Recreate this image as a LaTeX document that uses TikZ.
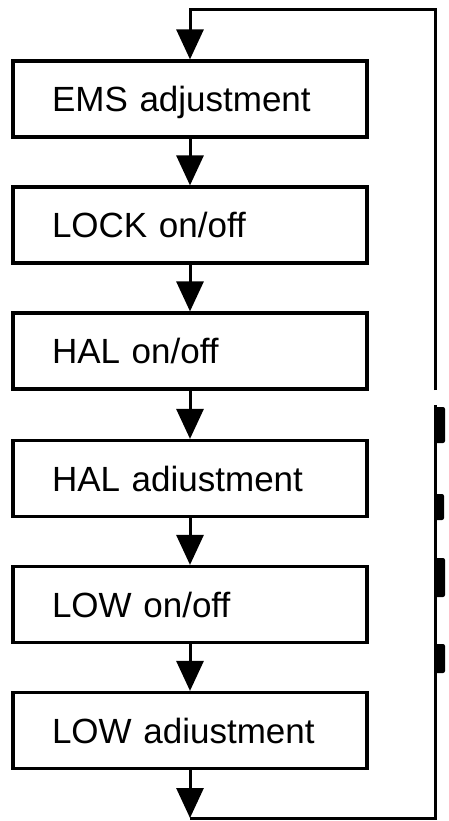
\documentclass[tikz,border=0pt]{standalone}
\usepackage{fontspec}
\setmainfont{Liberation Sans}
\usetikzlibrary{arrows.meta}
\begin{document}
\begin{tikzpicture}[x=1pt,y=-1pt,
  box/.style={draw, line width=3.2pt, minimum width=354pt, minimum height=76pt,
    inner xsep=39pt, inner ysep=0pt, text width=276pt, align=left,
    font=\fontsize{35}{41}\selectfont, text height=25pt, text depth=0pt},
  flow/.style={line width=3pt, -{Triangle[width=27pt,length=30pt]}},
  loopline/.style={line width=3pt},
  blob/.style={fill=black, rounded corners=2pt}]
\useasboundingbox (0,0) rectangle (448,821);
\node[box] (b1) at (190,99) {EMS adjustment};
\node[box] (b2) at (190,225) {LOCK on/off};
\node[box] (b3) at (190,351) {HAL on/off};
\node[box] (b4) at (190,478.5) {HAL adiustment};
\node[box] (b5) at (190,604.5) {LOW on/off};
\node[box] (b6) at (190,730.5) {LOW adiustment};
\draw[flow] (b1.south) -- (b2.north);
\draw[flow] (b2.south) -- (b3.north);
\draw[flow] (b3.south) -- (b4.north);
\draw[flow] (b4.south) -- (b5.north);
\draw[flow] (b5.south) -- (b6.north);
\coordinate (tl) at (190,10);
\coordinate (tr) at (435,10);
\coordinate (gapT) at (435,390);
\coordinate (gapB) at (435,405);
\coordinate (br) at (435,818);
\coordinate (bl) at (190,818);
\draw[flow] (b6.south) -- (bl);
\draw[loopline] (bl) -- (br) -- (gapB);
\draw[flow] (gapT) -- (tr) -- (tl) -- (b1.north);
\fill[blob] (435,407) rectangle (445,443);
\fill[blob] (435,494) rectangle (444,520);
\fill[blob] (435,558) rectangle (445,597);
\fill[blob] (435,644) rectangle (445,673);
\end{tikzpicture}
\end{document}
